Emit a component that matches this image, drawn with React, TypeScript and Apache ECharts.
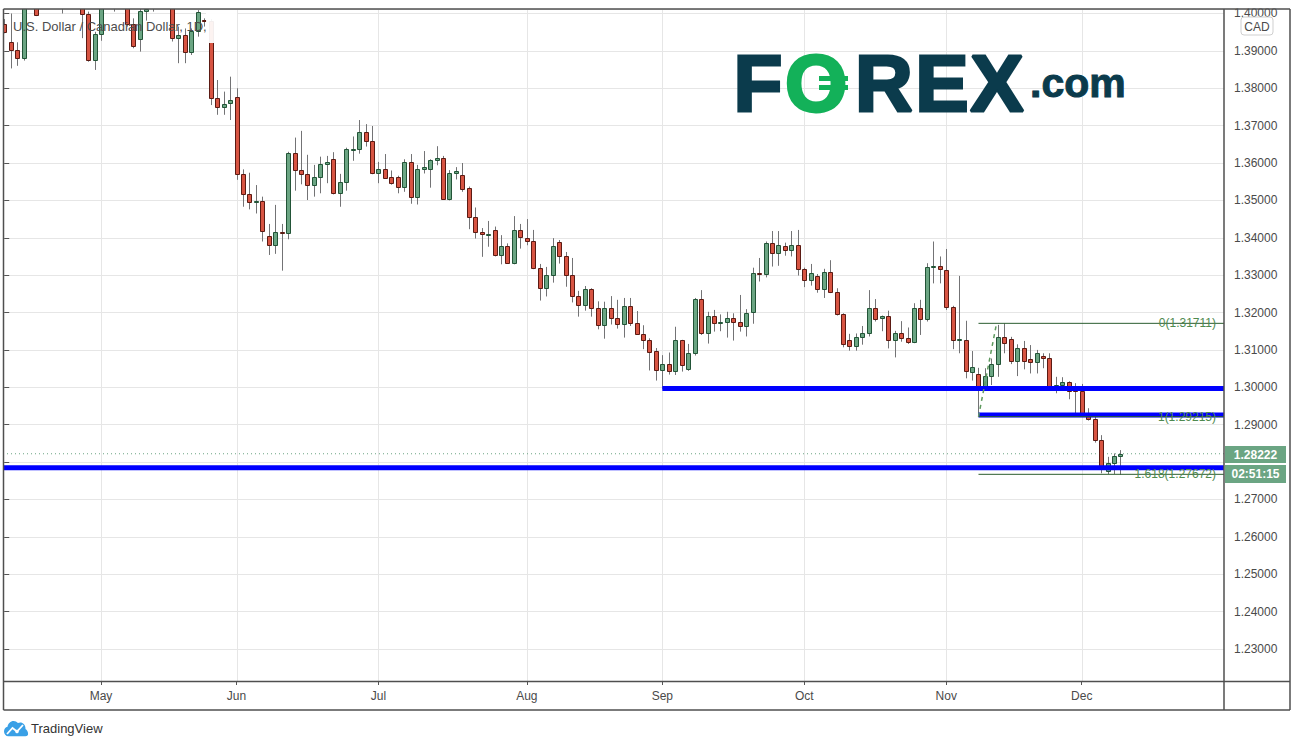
import React, { useEffect, useRef } from "react";
import * as echarts from "echarts";

// ---------- data ----------
const TITLE = "U.S. Dollar / Canadian Dollar, 1D,";
const FIRST_DAY = "2020-04-10";
const MONTH_NAMES = ["Jan", "Feb", "Mar", "Apr", "May", "Jun", "Jul", "Aug", "Sep", "Oct", "Nov", "Dec"];

// daily candles: [open, high, low, close]
const apr = [
  [1.3971, 1.3985, 1.3947, 1.395],
  [1.3923, 1.4, 1.3853, 1.3901],
  [1.3901, 1.3923, 1.386, 1.388],
  [1.388, 1.409, 1.3874, 1.406],
  [1.406, 1.414, 1.403, 1.41],
  [1.408, 1.412, 1.3993, 1.3995],
  [1.405, 1.411, 1.4025, 1.407],
  [1.41, 1.422, 1.406, 1.418],
  [1.418, 1.4265, 1.409, 1.412],
  [1.412, 1.415, 1.4, 1.408],
  [1.408, 1.415, 1.404, 1.41],
  [1.41, 1.414, 1.403, 1.406],
  [1.406, 1.409, 1.3934, 1.3998],
  [1.3998, 1.4005, 1.3871, 1.3876],
  [1.3876, 1.3951, 1.3849, 1.3944],
];
const may = [
  [1.3944, 1.407, 1.3927, 1.404],
  [1.404, 1.41, 1.402, 1.406],
  [1.406, 1.409, 1.4005, 1.403],
  [1.403, 1.41, 1.4015, 1.406],
  [1.405, 1.408, 1.3965, 1.3971],
  [1.3971, 1.3987, 1.3907, 1.3914],
  [1.3931, 1.402, 1.3898, 1.4006],
  [1.4006, 1.403, 1.3981, 1.4011],
  [1.403, 1.41, 1.4005, 1.406],
  [1.406, 1.412, 1.4025, 1.404],
  [1.404, 1.41, 1.402, 1.408],
  [1.407, 1.41, 1.3925, 1.3934],
  [1.3935, 1.3965, 1.3867, 1.3942],
  [1.3942, 1.396, 1.3867, 1.3898],
  [1.3898, 1.396, 1.3889, 1.3953],
  [1.3953, 1.4009, 1.3938, 1.4003],
  [1.3983, 1.3987, 1.3965, 1.3981],
  [1.398, 1.3985, 1.3755, 1.3773],
  [1.3773, 1.3822, 1.3729, 1.3751],
  [1.3751, 1.3791, 1.3729, 1.3759],
  [1.376, 1.3831, 1.3715, 1.3769],
];
const jun = [
  [1.3776, 1.38, 1.3555, 1.357],
  [1.357, 1.3583, 1.3483, 1.3516],
  [1.3516, 1.3574, 1.3476, 1.3495],
  [1.3496, 1.3541, 1.3465, 1.3498],
  [1.3498, 1.351, 1.339, 1.3417],
  [1.3406, 1.3437, 1.3354, 1.338],
  [1.338, 1.3488, 1.3357, 1.3415],
  [1.3415, 1.3437, 1.3312, 1.3413],
  [1.3412, 1.363, 1.3396, 1.3626],
  [1.3626, 1.3668, 1.3526, 1.358],
  [1.358, 1.3686, 1.3543, 1.357],
  [1.357, 1.3622, 1.3501, 1.354],
  [1.354, 1.3595, 1.351, 1.3562],
  [1.3562, 1.3617, 1.3519, 1.3597],
  [1.3597, 1.3619, 1.3546, 1.3602],
  [1.361, 1.3629, 1.3516, 1.3519],
  [1.3519, 1.3571, 1.3483, 1.3548],
  [1.3548, 1.3641, 1.3526, 1.3637],
  [1.3637, 1.3671, 1.3606, 1.3638],
  [1.3637, 1.3715, 1.3625, 1.3682],
  [1.3682, 1.3704, 1.3644, 1.3658],
  [1.3658, 1.3699, 1.357, 1.3572],
];
const jul = [
  [1.3572, 1.3603, 1.3546, 1.3583],
  [1.3583, 1.3624, 1.356, 1.3561],
  [1.3562, 1.358, 1.3542, 1.3546],
  [1.3562, 1.3566, 1.3519, 1.3537],
  [1.3537, 1.361, 1.3523, 1.3602],
  [1.3602, 1.3624, 1.3491, 1.351],
  [1.351, 1.3595, 1.3489, 1.3583],
  [1.3583, 1.3632, 1.3572, 1.3588],
  [1.3583, 1.361, 1.3534, 1.3607],
  [1.3607, 1.3645, 1.3594, 1.3613],
  [1.3613, 1.3619, 1.3503, 1.3505],
  [1.3505, 1.3581, 1.35, 1.3572],
  [1.3572, 1.3589, 1.3556, 1.3578],
  [1.3567, 1.36, 1.3523, 1.3531],
  [1.3532, 1.3537, 1.3423, 1.3456],
  [1.3456, 1.3481, 1.3398, 1.3415],
  [1.3415, 1.3426, 1.3349, 1.3409],
  [1.3409, 1.3445, 1.3376, 1.3411],
  [1.342, 1.343, 1.335, 1.3353],
  [1.3353, 1.3407, 1.3329, 1.3377],
  [1.3377, 1.3385, 1.3332, 1.3333],
  [1.3333, 1.3458, 1.3329, 1.342],
  [1.342, 1.3437, 1.3371, 1.3403],
];
const aug = [
  [1.3399, 1.345, 1.338, 1.3391],
  [1.3391, 1.3421, 1.3316, 1.3318],
  [1.3318, 1.333, 1.3232, 1.3265],
  [1.3265, 1.3322, 1.3243, 1.33],
  [1.33, 1.3399, 1.328, 1.3377],
  [1.3388, 1.3394, 1.3331, 1.335],
  [1.335, 1.3362, 1.3269, 1.33],
  [1.33, 1.3346, 1.3227, 1.3243],
  [1.3243, 1.3258, 1.3189, 1.3221],
  [1.3221, 1.3271, 1.3205, 1.3262],
  [1.3262, 1.3265, 1.3189, 1.3211],
  [1.3211, 1.323, 1.3155, 1.3166],
  [1.3166, 1.3229, 1.313, 1.3211],
  [1.3211, 1.3244, 1.3168, 1.3185],
  [1.3185, 1.3234, 1.3157, 1.3168],
  [1.3168, 1.3239, 1.3133, 1.3217],
  [1.3217, 1.3239, 1.3164, 1.3171],
  [1.3171, 1.3204, 1.314, 1.3142],
  [1.3142, 1.3166, 1.3102, 1.3126],
  [1.3126, 1.3131, 1.3045, 1.3094],
  [1.3096, 1.3105, 1.3018, 1.3045],
];
const sep = [
  [1.3045, 1.3086, 1.2995, 1.3062],
  [1.3062, 1.3093, 1.3034, 1.3043],
  [1.3043, 1.3162, 1.3033, 1.3126],
  [1.3126, 1.3127, 1.3042, 1.3059],
  [1.3048, 1.3116, 1.3044, 1.3091],
  [1.3091, 1.3239, 1.3085, 1.3235],
  [1.3235, 1.326, 1.314, 1.3144],
  [1.3144, 1.3202, 1.3117, 1.319],
  [1.319, 1.3207, 1.3149, 1.3171],
  [1.3172, 1.3195, 1.315, 1.3174],
  [1.3174, 1.3202, 1.3133, 1.3185],
  [1.3185, 1.3198, 1.3125, 1.3174],
  [1.3174, 1.3247, 1.3149, 1.3163],
  [1.3163, 1.3209, 1.3136, 1.3198],
  [1.3201, 1.332, 1.317, 1.3305],
  [1.3305, 1.3346, 1.3283, 1.3302],
  [1.3302, 1.339, 1.3294, 1.3385],
  [1.3385, 1.3418, 1.3323, 1.3358],
  [1.3358, 1.3418, 1.3325, 1.3382],
  [1.3377, 1.3387, 1.3352, 1.3366],
  [1.3366, 1.3418, 1.335, 1.3382],
  [1.3382, 1.3421, 1.3299, 1.3316],
];
const oct = [
  [1.3316, 1.332, 1.3268, 1.3286],
  [1.3286, 1.333, 1.3272, 1.3306],
  [1.3297, 1.3303, 1.3253, 1.3263],
  [1.3262, 1.3317, 1.3239, 1.3308],
  [1.3308, 1.334, 1.3252, 1.3254],
  [1.3254, 1.3265, 1.3192, 1.3195],
  [1.3195, 1.3198, 1.3107, 1.3115],
  [1.3126, 1.3143, 1.3098, 1.311],
  [1.311, 1.3144, 1.3098, 1.3134],
  [1.3134, 1.3164, 1.3114, 1.3144],
  [1.3144, 1.326, 1.3136, 1.3211],
  [1.3211, 1.3236, 1.3176, 1.3182],
  [1.3185, 1.3192, 1.315, 1.319],
  [1.319, 1.3205, 1.3104, 1.3126],
  [1.3126, 1.3151, 1.308, 1.3144],
  [1.3144, 1.3177, 1.3122, 1.3131],
  [1.3131, 1.316, 1.3116, 1.312],
  [1.312, 1.3225, 1.3118, 1.3211],
  [1.3211, 1.3234, 1.314, 1.3182],
  [1.3182, 1.3332, 1.3176, 1.3321],
  [1.3322, 1.339, 1.3278, 1.3324],
  [1.3324, 1.335, 1.3278, 1.3316],
];
const nov = [
  [1.3313, 1.337, 1.3207, 1.3214],
  [1.3214, 1.3218, 1.3102, 1.3126],
  [1.3126, 1.3298, 1.3091, 1.3128],
  [1.3127, 1.3178, 1.3024, 1.3043],
  [1.3042, 1.3097, 1.3018, 1.3053],
  [1.3036, 1.3052, 1.29215, 1.3004],
  [1.3004, 1.3051, 1.2997, 1.3029],
  [1.3029, 1.3077, 1.3006, 1.3061],
  [1.3061, 1.3167, 1.3028, 1.3134],
  [1.3134, 1.31711, 1.3091, 1.3118],
  [1.3128, 1.3135, 1.3062, 1.3071],
  [1.3071, 1.3115, 1.303, 1.3104],
  [1.3104, 1.3124, 1.3048, 1.3071],
  [1.3075, 1.3113, 1.3037, 1.3069],
  [1.3069, 1.31, 1.3037, 1.3093],
  [1.3084, 1.3091, 1.3051, 1.3078],
  [1.3078, 1.3091, 1.2998, 1.3],
  [1.3003, 1.3028, 1.2984, 1.3007],
  [1.3005, 1.3027, 1.2991, 1.3013],
  [1.3013, 1.3016, 1.2968, 1.2991],
  [1.2995, 1.3011, 1.293, 1.299],
];
const dec = [
  [1.2991, 1.3009, 1.293, 1.2932],
  [1.2932, 1.2944, 1.2911, 1.2914],
  [1.2914, 1.2927, 1.2852, 1.2859],
  [1.2859, 1.2872, 1.277, 1.279],
  [1.2776, 1.2814, 1.2768, 1.2797],
  [1.2797, 1.2823, 1.2768, 1.2816],
  [1.2816, 1.2832, 1.2766, 1.28222],
];

// horizontal support / resistance lines (price, first bar index)
const levelPrices = [1.2997, 1.2926, 1.2785];
const levelStarts = [102, 151, null];

// Fibonacci extension drawn on the Nov swing
const fibRatios = [0, 1, 1.618];
const fibPrices = [1.31711, 1.29215, 1.27672];
const fibStart = 151;
const fibTrendX = [151, 153.8];
const fibTrendY = [1.29215, 1.31711];

const lastPrice = 1.28222;
const countdown = "02:51:15";
const currency = "CAD";

// ---------- layout constants ----------
const X_MIN = -0.19;
const X_MAX = 189.05;
const Y_MIN = 1.22143;
const Y_MAX = 1.4012;
const FONT = "Liberation Sans, Arial, sans-serif";

const UP = "#6ba583";
const DOWN = "#d75442";
const UP_BORDER = "#225437";
const DOWN_BORDER = "#5b1a13";
const WICK = "#737375";
const FRAME = "#4f4f4f";
const GRID = "#e6e6e6";

const candles = [...apr, ...may, ...jun, ...jul, ...aug, ...sep, ...oct, ...nov, ...dec];

function tradingDays(start: string, n: number): Date[] {
  const out: Date[] = [];
  const d = new Date(start + "T12:00:00Z");
  while (out.length < n) {
    const wd = d.getUTCDay();
    if (wd !== 0 && wd !== 6) out.push(new Date(d.getTime()));
    d.setUTCDate(d.getUTCDate() + 1);
  }
  return out;
}

const dates = tradingDays(FIRST_DAY, candles.length);
const monthStarts: number[] = [];
dates.forEach((d, i) => {
  if (i > 0 && d.getUTCMonth() !== dates[i - 1].getUTCMonth()) monthStarts.push(i);
});

let shapeRegistered = false;
function registerLogo() {
  if (shapeRegistered) return;
  shapeRegistered = true;
  const cloud =
    "M5 17C2.2 17 0 14.8 0 12C0 9.5 1.8 7.5 4.1 7.1C4.6 3.6 7.6 1 11.2 1C13.1 1 14.9 1.8 16.2 3.1C17 2.7 17.9 2.5 18.8 2.5C22.2 2.5 25 5.3 25 8.7C25 9 25 9.3 24.9 9.6C26.7 10.5 28 12.4 28 14.5C28 16.4 27 17 25 17Z";
  echarts.graphic.registerShape("tvcloud", echarts.graphic.extendPath(cloud, {}));
}

function buildOption() {
  const candleData = candles.map((c, i) => [i, c[0], c[1], c[2], c[3]]);

  const series: any[] = [];

  // vertical month grid lines
  series.push({
    type: "custom",
    silent: true,
    z: 1,
    data: monthStarts.map((i) => [i, Y_MIN]),
    encode: { x: 0, y: 1 },
    renderItem: (params: any, api: any) => {
      const p = api.coord([api.value(0), Y_MIN]);
      const cs = params.coordSys;
      const x = Math.round(p[0]) + 0.5;
      return {
        type: "line",
        shape: { x1: x, y1: cs.y, x2: x, y2: cs.y + cs.height },
        style: { stroke: GRID, lineWidth: 1 },
      };
    },
  });

  // candles
  series.push({
    type: "custom",
    silent: true,
    clip: true,
    z: 3,
    data: candleData,
    dimensions: ["i", "open", "high", "low", "close"],
    encode: { x: 0, y: [1, 2, 3, 4] },
    renderItem: (_params: any, api: any) => {
      const i = api.value(0);
      const o = api.value(1);
      const h = api.value(2);
      const l = api.value(3);
      const c = api.value(4);
      const pO = api.coord([i, o]);
      const yC = api.coord([i, c])[1];
      const yH = api.coord([i, h])[1];
      const yL = api.coord([i, l])[1];
      const up = c >= o;
      const xl = Math.round(pO[0]) + 0.5;
      const top = Math.round(Math.min(pO[1], yC)) + 0.5;
      const bot = Math.round(Math.max(pO[1], yC)) + 0.5;
      return {
        type: "group",
        children: [
          {
            type: "line",
            shape: { x1: xl, y1: yH, x2: xl, y2: yL },
            style: { stroke: WICK, lineWidth: 1 },
          },
          {
            type: "rect",
            shape: { x: xl - 2, y: top, width: 4, height: Math.max(bot - top, 1) },
            style: { fill: up ? UP : DOWN, stroke: up ? UP_BORDER : DOWN_BORDER, lineWidth: 1 },
          },
        ],
      };
    },
  });

  // last price dotted line
  series.push({
    type: "line",
    silent: true,
    z: 2,
    symbol: "none",
    data: [
      [X_MIN, lastPrice],
      [X_MAX, lastPrice],
    ],
    lineStyle: { color: UP, width: 1, type: [1, 3] },
  });

  // blue levels
  levelPrices.forEach((p, k) => {
    const from = levelStarts[k] === null ? X_MIN : (levelStarts[k] as number);
    series.push({
      type: "line",
      silent: true,
      z: 5,
      symbol: "none",
      data: [
        [from, p],
        [X_MAX, p],
      ],
      lineStyle: { color: "#0000ff", width: 5 },
    });
  });

  // fib lines
  fibPrices.forEach((p) => {
    series.push({
      type: "line",
      silent: true,
      z: 6,
      symbol: "none",
      data: [
        [fibStart, p],
        [X_MAX, p],
      ],
      lineStyle: { color: "#2b5d2f", width: 1 },
    });
  });

  // fib trend (dashed)
  series.push({
    type: "line",
    silent: true,
    z: 6,
    symbol: "none",
    data: fibTrendX.map((x, k) => [x, fibTrendY[k]]),
    lineStyle: { color: "#5f9a5f", width: 1.5, type: [4, 4] },
  });

  // fib labels
  series.push({
    type: "custom",
    silent: true,
    clip: false,
    z: 7,
    data: fibPrices.map((p, k) => [X_MAX, p, k]),
    encode: { x: 0, y: 1 },
    renderItem: (_params: any, api: any) => {
      const p = api.coord([api.value(0), api.value(1)]);
      const k = api.value(2);
      return {
        type: "text",
        x: p[0] - 8,
        y: p[1],
        style: {
          text: `${fibRatios[k]}(${fibPrices[k].toFixed(5)})`,
          fill: "#4f8a4f",
          font: `12px ${FONT}`,
          align: "right",
          verticalAlign: "middle",
        },
      };
    },
  });

  // price / countdown tags on the axis
  series.push({
    type: "custom",
    silent: true,
    clip: false,
    z: 20,
    data: [[X_MAX, lastPrice]],
    encode: { x: 0, y: 1 },
    renderItem: (_params: any, api: any) => {
      const p = api.coord([api.value(0), api.value(1)]);
      const x = Math.round(p[0]) + 1;
      const y = Math.round(p[1]);
      return {
        type: "group",
        children: [
          { type: "rect", shape: { x, y: y - 8, width: 61, height: 17 }, style: { fill: UP } },
          {
            type: "text",
            x: x + 30.5,
            y: y + 0.5,
            style: {
              text: lastPrice.toFixed(5),
              fill: "#ffffff",
              font: `bold 12px ${FONT}`,
              align: "center",
              verticalAlign: "middle",
            },
          },
          { type: "rect", shape: { x, y: y + 11, width: 61, height: 18 }, style: { fill: UP } },
          {
            type: "text",
            x: x + 30.5,
            y: y + 20,
            style: {
              text: countdown,
              fill: "#ffffff",
              font: `bold 12px ${FONT}`,
              align: "center",
              verticalAlign: "middle",
            },
          },
        ],
      };
    },
  });

  const frameLine = (x1: number, y1: number, x2: number, y2: number) => ({
    type: "line",
    z: 200,
    silent: true,
    shape: { x1, y1, x2, y2 },
    style: { stroke: FRAME, lineWidth: 1.5 },
  });

  const logoColor = "#0b3b4c";
  const logoGreen = "#13b159";
  const letter = (t: string, cx: number, color: string) => ({
    type: "text",
    z: 80,
    silent: true,
    x: cx,
    y: 43,
    style: {
      text: t,
      fill: color,
      stroke: color,
      lineWidth: 3,
      font: `bold 80px ${FONT}`,
      align: "center",
      verticalAlign: "top",
    },
  });

  const graphic: any[] = [
    // white band above the frame
    { type: "rect", z: 150, silent: true, shape: { x: 0, y: 0, width: 1297, height: 8.5 }, style: { fill: "#fff" } },
    // legend backdrop
    { type: "rect", z: 60, silent: true, shape: { x: 206, y: 10, width: 31, height: 33 }, style: { fill: "rgba(255,255,255,0.93)" } },
    {
      type: "text",
      z: 70,
      silent: true,
      x: 13,
      y: 26,
      style: { text: TITLE, fill: "#4d4d4d", font: `13px ${FONT}`, align: "left", verticalAlign: "middle" },
    },
    // FOREX.com logo
    letter("F", 758, logoColor),
    letter("O", 816, logoGreen),
    {
      type: "rect",
      z: 81,
      silent: true,
      shape: { x: 819, y: 76, width: 29, height: 5 },
      style: { fill: logoGreen },
    },
    {
      type: "rect",
      z: 81,
      silent: true,
      shape: { x: 819, y: 85, width: 29, height: 5 },
      style: { fill: logoGreen },
    },
    letter("R", 884, logoColor),
    letter("E", 942, logoColor),
    letter("X", 997, logoColor),
    {
      type: "text",
      z: 80,
      silent: true,
      x: 1030,
      y: 62,
      style: {
        text: ".com",
        fill: logoColor,
        stroke: logoColor,
        lineWidth: 1,
        font: `bold 41px ${FONT}`,
        align: "left",
        verticalAlign: "top",
      },
    },
    // currency box
    {
      type: "rect",
      z: 160,
      silent: true,
      shape: { x: 1241, y: 17, width: 32, height: 18, r: 3 },
      style: { fill: "#fff", stroke: "#cfcfcf", lineWidth: 1 },
    },
    {
      type: "text",
      z: 161,
      silent: true,
      x: 1257,
      y: 26.5,
      style: { text: currency, fill: "#4a4a4a", font: `12px ${FONT}`, align: "center", verticalAlign: "middle" },
    },
    // frame
    frameLine(3.5, 9, 1290, 9),
    frameLine(3.5, 9, 3.5, 710),
    frameLine(3.5, 710, 1290, 710),
    frameLine(1290, 9, 1290, 710),
    frameLine(3.5, 681.5, 1290, 681.5),
    frameLine(1224, 9, 1224, 710),
    // TradingView logo
    {
      type: "tvcloud",
      z: 100,
      silent: true,
      x: 4,
      y: 720,
      scaleX: 0.86,
      scaleY: 0.95,
      style: { fill: "#3aa0e6" },
    },
    {
      type: "polyline",
      z: 101,
      silent: true,
      shape: { points: [[7, 734], [12.5, 728], [17, 731.5], [23, 725]] },
      style: { stroke: "#fff", lineWidth: 1.8, fill: null },
    },
    { type: "circle", z: 102, silent: true, shape: { cx: 17, cy: 731.5, r: 1.8 }, style: { fill: "#fff" } },
    {
      type: "text",
      z: 100,
      silent: true,
      x: 31,
      y: 728.5,
      style: { text: "TradingView", fill: "#333", font: `13px ${FONT}`, align: "left", verticalAlign: "middle" },
    },
  ];

  return {
    animation: false,
    backgroundColor: "#ffffff",
    textStyle: { fontFamily: FONT },
    grid: { left: 3, right: 73, top: 9, bottom: 66, containLabel: false },
    xAxis: {
      type: "value",
      min: X_MIN,
      max: X_MAX,
      axisLine: { show: false },
      splitLine: { show: false },
      axisTick: { show: true, customValues: monthStarts, length: 4, lineStyle: { color: "#555" } },
      axisLabel: {
        customValues: monthStarts,
        color: "#4a4a4a",
        fontSize: 12,
        margin: 9,
        formatter: (v: number) => {
          const i = Math.round(v);
          if (monthStarts.indexOf(i) < 0) return "";
          return MONTH_NAMES[dates[i].getUTCMonth()];
        },
      },
    },
    yAxis: {
      type: "value",
      position: "right",
      min: Y_MIN,
      max: Y_MAX,
      splitNumber: 18,
      axisLine: { show: false },
      axisTick: { show: true, length: 5, lineStyle: { color: "#555" } },
      axisLabel: {
        color: "#4a4a4a",
        fontSize: 12,
        margin: 10,
        showMinLabel: false,
        showMaxLabel: false,
        // the tick hidden behind the last-price tags carries no label
        formatter: (v: number) => (Math.abs(v - lastPrice) < 0.004 ? "" : v.toFixed(5)),
      },
      splitLine: { show: true, lineStyle: { color: GRID, width: 1 } },
    },
    series,
    graphic,
  };
}

export default function App() {
  const ref = useRef<HTMLDivElement>(null);
  useEffect(() => {
    if (!ref.current) return;
    registerLogo();
    const chart = echarts.init(ref.current, null, { renderer: "svg" });
    chart.setOption(buildOption() as any);
    return () => chart.dispose();
  }, []);
  return (
    <div
      ref={ref}
      style={{ position: "fixed", left: 0, top: 0, width: 1297, height: 747, background: "#fff" }}
    />
  );
}
